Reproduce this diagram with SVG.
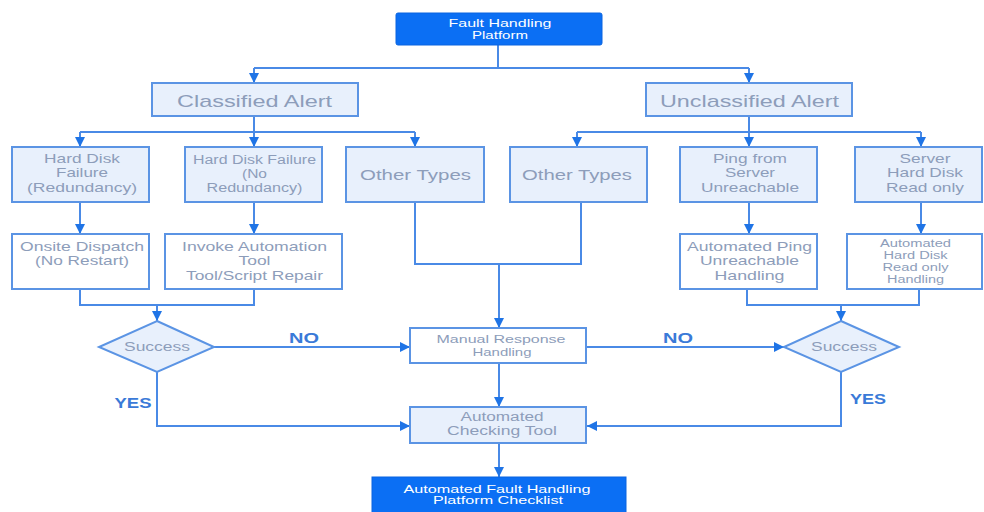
<svg xmlns="http://www.w3.org/2000/svg" width="984" height="512" viewBox="0 0 984 512">
<defs>
<marker id="arr" markerUnits="userSpaceOnUse" markerWidth="12" markerHeight="10" refX="10" refY="5" orient="auto">
<path d="M0,0 L10,5 L0,10 Z" fill="#1f74e6"/>
</marker>
<style>
text{font-family:"Liberation Sans",Arial,sans-serif;text-anchor:middle;fill:#8d9dba}
.dark{fill:#0b6ff4;stroke:#0a64e0;stroke-width:1}
.dark text,text.w{fill:#ffffff}
.lb{fill:#e8f0fc;stroke:#5b94e4;stroke-width:2}
.wb{fill:#ffffff;stroke:#5b94e4;stroke-width:2}
.c path{fill:none;stroke:#4a8ae6;stroke-width:2}
.lbl{fill:#3a7ad8;font-weight:bold;font-size:15px}
</style>
</defs>
<rect width="984" height="512" fill="#ffffff"/>
<g id="connectors" class="c">
<path d="M498 45 V68 M254 68 H749"/>
<path d="M254 68 V83" marker-end="url(#arr)"/>
<path d="M749 68 V83" marker-end="url(#arr)"/>
<path d="M254 116 V132 M80 132 H415"/>
<path d="M80 132 V147" marker-end="url(#arr)"/>
<path d="M254 132 V147" marker-end="url(#arr)"/>
<path d="M415 132 V147" marker-end="url(#arr)"/>
<path d="M749 116 V132 M577 132 H921"/>
<path d="M577 132 V147" marker-end="url(#arr)"/>
<path d="M749 132 V147" marker-end="url(#arr)"/>
<path d="M921 132 V147" marker-end="url(#arr)"/>
<path d="M80 202 V234" marker-end="url(#arr)"/>
<path d="M254 202 V234" marker-end="url(#arr)"/>
<path d="M749 202 V234" marker-end="url(#arr)"/>
<path d="M921 202 V234" marker-end="url(#arr)"/>
<path d="M80 289 V305 H254 V289"/>
<path d="M157 305 V321" marker-end="url(#arr)"/>
<path d="M747 289 V305 H919 V289"/>
<path d="M841 305 V321" marker-end="url(#arr)"/>
<path d="M415 202 V264 H581 V202"/>
<path d="M499 264 V328" marker-end="url(#arr)"/>
<path d="M214 347 H410" marker-end="url(#arr)"/>
<path d="M586 347 H784" marker-end="url(#arr)"/>
<path d="M499 363 V407" marker-end="url(#arr)"/>
<path d="M157 372 V426 H410" marker-end="url(#arr)"/>
<path d="M841 372 V426 H587" marker-end="url(#arr)"/>
<path d="M499 443 V477" marker-end="url(#arr)"/>
<text class="lbl" x="304" y="343" textLength="30" lengthAdjust="spacingAndGlyphs">NO</text>
<text class="lbl" x="678" y="343" textLength="30" lengthAdjust="spacingAndGlyphs">NO</text>
<text class="lbl" x="133" y="408" textLength="37" lengthAdjust="spacingAndGlyphs">YES</text>
<text class="lbl" x="868" y="404" textLength="36" lengthAdjust="spacingAndGlyphs">YES</text>
</g>
<g id="platform" class="dark">
<rect x="396" y="13" width="206" height="32" rx="2"/>
<text x="500" y="27" font-size="11" textLength="103" lengthAdjust="spacingAndGlyphs" stroke="none">Fault Handling</text>
<text x="500" y="39" font-size="11" textLength="56" lengthAdjust="spacingAndGlyphs" stroke="none">Platform</text>
</g>
<g id="classified">
<rect class="lb" x="152" y="83" width="206" height="33"/>
<text x="254.5" y="107" font-size="17" textLength="155" lengthAdjust="spacingAndGlyphs">Classified Alert</text>
</g>
<g id="unclassified">
<rect class="lb" x="646" y="83" width="206" height="33"/>
<text x="749.5" y="107" font-size="17" textLength="179" lengthAdjust="spacingAndGlyphs">Unclassified Alert</text>
</g>
<g id="hdf-red">
<rect class="lb" x="12" y="147" width="137" height="55"/>
<text x="82" y="163" font-size="13" textLength="76" lengthAdjust="spacingAndGlyphs">Hard Disk</text>
<text x="82" y="177" font-size="13" textLength="52" lengthAdjust="spacingAndGlyphs">Failure</text>
<text x="82" y="192" font-size="13" textLength="110" lengthAdjust="spacingAndGlyphs">(Redundancy)</text>
</g>
<g id="hdf-nored">
<rect class="lb" x="185" y="147" width="137" height="55"/>
<text x="254.5" y="164" font-size="12" textLength="123" lengthAdjust="spacingAndGlyphs">Hard Disk Failure</text>
<text x="254.5" y="178" font-size="12" textLength="25" lengthAdjust="spacingAndGlyphs">(No</text>
<text x="254.5" y="192" font-size="12" textLength="96" lengthAdjust="spacingAndGlyphs">Redundancy)</text>
</g>
<g id="other-left">
<rect class="lb" x="346" y="147" width="138" height="55"/>
<text x="415.5" y="180" font-size="15" textLength="111" lengthAdjust="spacingAndGlyphs">Other Types</text>
</g>
<g id="other-right">
<rect class="lb" x="510" y="147" width="137" height="55"/>
<text x="577" y="180" font-size="15" textLength="110" lengthAdjust="spacingAndGlyphs">Other Types</text>
</g>
<g id="ping">
<rect class="lb" x="680" y="147" width="137" height="55"/>
<text x="750" y="163" font-size="13" textLength="74" lengthAdjust="spacingAndGlyphs">Ping from</text>
<text x="750" y="177" font-size="13" textLength="50" lengthAdjust="spacingAndGlyphs">Server</text>
<text x="750" y="192" font-size="13" textLength="98" lengthAdjust="spacingAndGlyphs">Unreachable</text>
</g>
<g id="server-hd">
<rect class="lb" x="855" y="147" width="127" height="55"/>
<text x="925" y="163" font-size="13" textLength="51" lengthAdjust="spacingAndGlyphs">Server</text>
<text x="925" y="177" font-size="13" textLength="76" lengthAdjust="spacingAndGlyphs">Hard Disk</text>
<text x="925" y="192" font-size="13" textLength="78" lengthAdjust="spacingAndGlyphs">Read only</text>
</g>
<g id="onsite">
<rect class="wb" x="12" y="234" width="137" height="55"/>
<text x="82" y="251" font-size="13" textLength="124" lengthAdjust="spacingAndGlyphs">Onsite Dispatch</text>
<text x="82" y="265" font-size="13" textLength="94" lengthAdjust="spacingAndGlyphs">(No Restart)</text>
</g>
<g id="invoke">
<rect class="wb" x="165" y="234" width="177" height="55"/>
<text x="254.5" y="251" font-size="13" textLength="145" lengthAdjust="spacingAndGlyphs">Invoke Automation</text>
<text x="254.5" y="265" font-size="13" textLength="32" lengthAdjust="spacingAndGlyphs">Tool</text>
<text x="254.5" y="280" font-size="13" textLength="137" lengthAdjust="spacingAndGlyphs">Tool/Script Repair</text>
</g>
<g id="auto-ping">
<rect class="wb" x="680" y="234" width="137" height="55"/>
<text x="749.5" y="251" font-size="13" textLength="125" lengthAdjust="spacingAndGlyphs">Automated Ping</text>
<text x="749.5" y="265" font-size="13" textLength="99" lengthAdjust="spacingAndGlyphs">Unreachable</text>
<text x="749.5" y="280" font-size="13" textLength="70" lengthAdjust="spacingAndGlyphs">Handling</text>
</g>
<g id="auto-hd">
<rect class="wb" x="847" y="234" width="135" height="55"/>
<text x="915.5" y="247" font-size="10" textLength="71" lengthAdjust="spacingAndGlyphs">Automated</text>
<text x="915.5" y="259" font-size="10" textLength="64" lengthAdjust="spacingAndGlyphs">Hard Disk</text>
<text x="915.5" y="271" font-size="10" textLength="66" lengthAdjust="spacingAndGlyphs">Read only</text>
<text x="915.5" y="283" font-size="10" textLength="57" lengthAdjust="spacingAndGlyphs">Handling</text>
</g>
<g id="success-left">
<polygon class="lb" points="157,321 214,347 157,372 99,347"/>
<text x="157" y="351" font-size="12" textLength="66" lengthAdjust="spacingAndGlyphs">Success</text>
</g>
<g id="success-right">
<polygon class="lb" points="841,321 899,347 841,372 784,347"/>
<text x="844" y="351" font-size="12" textLength="66" lengthAdjust="spacingAndGlyphs">Success</text>
</g>
<g id="manual">
<rect class="wb" x="410" y="328" width="176" height="35"/>
<text x="501" y="343" font-size="11" textLength="129" lengthAdjust="spacingAndGlyphs">Manual Response</text>
<text x="502" y="356" font-size="11" textLength="59" lengthAdjust="spacingAndGlyphs">Handling</text>
</g>
<g id="checking">
<rect class="lb" x="410" y="407" width="176" height="36"/>
<text x="502" y="421" font-size="12" textLength="83" lengthAdjust="spacingAndGlyphs">Automated</text>
<text x="502" y="435" font-size="12" textLength="110" lengthAdjust="spacingAndGlyphs">Checking Tool</text>
</g>
<g id="checklist" class="dark">
<rect x="372" y="477" width="254" height="40"/>
<text x="497" y="493" font-size="11" textLength="187" lengthAdjust="spacingAndGlyphs" stroke="none">Automated Fault Handling</text>
<text x="498" y="504" font-size="11" textLength="130" lengthAdjust="spacingAndGlyphs" stroke="none">Platform Checklist</text>
</g>
</svg>
